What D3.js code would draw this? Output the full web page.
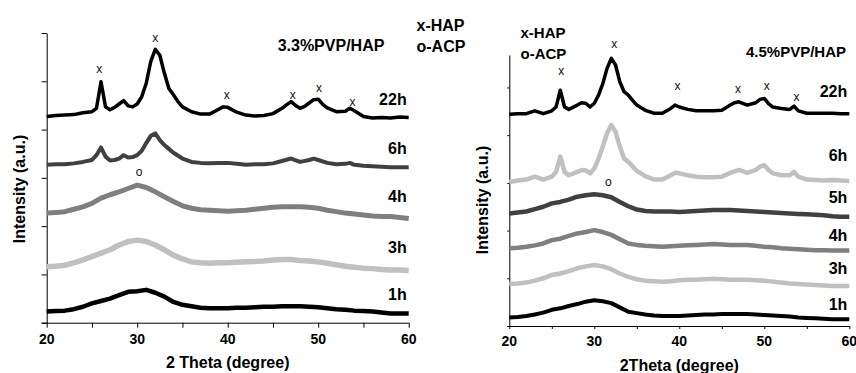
<!DOCTYPE html>
<html>
<head>
<meta charset="utf-8">
<script src="https://cdn.jsdelivr.net/npm/d3@7"></script>
<style>
  html, body { margin: 0; padding: 0; background: #fff; }
  svg { display: block; font-family: 'Liberation Sans', Arial, sans-serif; }
  .tick-label { font-size: 14px; font-weight: bold; fill: #000; }
  .axis-title { font-size: 16px; font-weight: bold; fill: #000; }
  .series-label { font-size: 16px; font-weight: bold; fill: #000; }
  .panel-title { font-weight: bold; fill: #000; }
  .legend { font-weight: bold; fill: #000; }
  .peak-mark { font-size: 12px; fill: #111; }
</style>
</head>
<body>
<div id="chart"></div>
<script>
// 2 theta ticks
const majorTicks = [20, 30, 40, 50, 60];
const allTicks = [20, 25, 30, 35, 40, 45, 50, 55, 60];

// --- 3.3%PVP/HAP (offset intensities, a.u.) ---
const leftNames = ['22h', '6h', '4h', '3h', '1h'];
const leftColors = ['#000000', '#404040', '#7f7f7f', '#c0c0c0', '#000000'];
const leftLabelPos = [4.63, 3.62, 2.61, 1.57, 0.59];

const left22h = [[20,4.27],[21,4.29],[22,4.30],[23,4.31],[24,4.35],[25,4.37],[25.5,4.44],[26,4.99],[26.5,4.47],[27,4.41],[27.5,4.46],[28,4.53],[28.5,4.60],[29,4.49],[29.5,4.47],[30,4.53],[30.5,4.68],[31,4.96],[31.5,5.41],[32,5.66],[32.5,5.54],[33,5.17],[33.5,4.85],[34,4.72],[34.5,4.58],[35,4.47],[36,4.37],[37,4.32],[38,4.32],[39,4.42],[39.5,4.47],[40,4.46],[41,4.36],[42,4.30],[43,4.28],[44,4.29],[45,4.33],[46,4.44],[46.5,4.51],[47,4.58],[47.5,4.50],[48,4.44],[48.5,4.48],[49,4.55],[49.5,4.62],[50,4.63],[50.5,4.52],[51,4.45],[52,4.37],[53,4.38],[53.5,4.44],[54,4.39],[55,4.27],[56,4.24],[57,4.25],[58,4.24],[59,4.26],[60,4.25]];
const left6h = [[20,3.27],[21,3.28],[22,3.28],[23,3.30],[24,3.33],[25,3.37],[25.5,3.47],[26,3.63],[26.5,3.44],[27,3.36],[27.5,3.37],[28,3.40],[28.5,3.47],[29,3.42],[29.5,3.43],[30,3.47],[30.5,3.56],[31,3.72],[31.5,3.87],[32,3.92],[32.5,3.78],[33,3.68],[33.5,3.60],[34,3.52],[35,3.40],[36,3.33],[37,3.31],[38,3.30],[39,3.31],[40,3.31],[41,3.29],[42,3.27],[43,3.28],[44,3.28],[45,3.30],[46,3.35],[47,3.40],[48,3.33],[49,3.37],[49.5,3.40],[50,3.37],[51,3.31],[52,3.28],[53,3.29],[53.5,3.31],[54,3.27],[55,3.25],[56,3.24],[57,3.23],[58,3.22],[59,3.22],[60,3.22]];
const left4h = [[20,2.27],[21,2.28],[22,2.30],[23,2.35],[24,2.40],[25,2.47],[26,2.58],[27,2.65],[28,2.71],[29,2.78],[30,2.85],[31,2.80],[32,2.71],[33,2.61],[34,2.51],[35,2.42],[36,2.37],[37,2.34],[38,2.33],[39,2.32],[40,2.31],[41,2.32],[42,2.33],[43,2.35],[44,2.37],[45,2.39],[46,2.40],[47,2.40],[48,2.40],[49,2.39],[50,2.37],[51,2.33],[52,2.30],[53,2.27],[54,2.25],[55,2.23],[56,2.21],[57,2.20],[58,2.20],[59,2.18],[60,2.16]];
const left3h = [[20,1.16],[21,1.17],[22,1.19],[23,1.24],[24,1.30],[25,1.37],[26,1.44],[27,1.51],[28,1.61],[29,1.68],[30,1.71],[31,1.68],[32,1.61],[33,1.51],[34,1.40],[35,1.32],[36,1.26],[37,1.24],[38,1.23],[39,1.24],[40,1.24],[41,1.25],[42,1.26],[43,1.27],[44,1.28],[45,1.30],[46,1.31],[47,1.31],[48,1.29],[49,1.28],[50,1.26],[51,1.23],[52,1.20],[53,1.17],[54,1.15],[55,1.13],[56,1.12],[57,1.10],[58,1.09],[59,1.09],[60,1.08]];
const left1h = [[20,0.23],[21,0.24],[22,0.25],[23,0.28],[24,0.33],[25,0.40],[26,0.45],[27,0.50],[28,0.57],[29,0.64],[30,0.65],[31,0.68],[32,0.62],[33,0.54],[34,0.43],[35,0.37],[36,0.34],[37,0.31],[38,0.30],[39,0.30],[40,0.30],[41,0.31],[42,0.31],[43,0.32],[44,0.33],[45,0.33],[46,0.34],[47,0.34],[48,0.34],[49,0.33],[50,0.32],[51,0.30],[52,0.28],[53,0.27],[54,0.25],[55,0.24],[56,0.23],[57,0.21],[58,0.19],[59,0.19],[60,0.19]];

const leftMarks = [[25.8,5.25,'x'],[32.0,5.88,'x'],[39.9,4.70,'x'],[47.2,4.70,'x'],[50.1,4.85,'x'],[53.8,4.56,'x'],[30.2,3.12,'o']];

// --- 4.5%PVP/HAP ---
const rightNames = ['22h', '6h', '5h', '4h', '3h', '1h'];
const rightColors = ['#000000', '#c0c0c0', '#404040', '#7f7f7f', '#c0c0c0', '#000000'];
const rightLabelPos = [4.93, 3.57, 2.69, 1.91, 1.21, 0.45];

const right22h = [[20,4.44],[21,4.45],[22,4.45],[23,4.51],[24,4.45],[25,4.51],[25.5,4.59],[26,4.94],[26.5,4.59],[27,4.54],[28,4.63],[28.5,4.68],[29,4.67],[29.5,4.59],[30,4.67],[30.5,4.84],[31,5.08],[31.5,5.40],[32,5.61],[32.5,5.47],[33,5.12],[33.5,4.91],[34,4.84],[34.5,4.73],[35,4.63],[36,4.52],[37,4.46],[38,4.46],[39,4.56],[39.5,4.63],[40,4.59],[41,4.54],[42,4.51],[43,4.51],[44,4.51],[45,4.52],[46,4.63],[46.5,4.68],[47,4.70],[48,4.63],[49,4.68],[49.5,4.75],[50,4.77],[50.5,4.66],[51,4.59],[52,4.56],[53,4.54],[53.5,4.61],[54,4.51],[55,4.46],[56,4.46],[57,4.46],[58,4.46],[59,4.45],[60,4.45]];
const right6h = [[20,3.02],[21,3.05],[22,3.07],[23,3.13],[24,3.07],[25,3.13],[25.5,3.23],[26,3.55],[26.5,3.23],[27,3.16],[28,3.23],[28.5,3.27],[29,3.26],[29.5,3.20],[30,3.30],[30.5,3.51],[31,3.76],[31.5,4.04],[32,4.21],[32.5,4.07],[33,3.76],[33.5,3.51],[34,3.44],[34.5,3.35],[35,3.25],[36,3.14],[37,3.07],[38,3.07],[39,3.16],[39.5,3.21],[40,3.20],[41,3.16],[42,3.13],[43,3.12],[44,3.12],[45,3.13],[46,3.21],[47,3.27],[48,3.21],[49,3.27],[49.5,3.34],[50,3.37],[50.5,3.27],[51,3.20],[52,3.16],[53,3.16],[53.5,3.23],[54,3.13],[55,3.07],[56,3.06],[57,3.05],[58,3.06],[59,3.05],[60,3.04]];
const right5h = [[20,2.36],[21,2.38],[22,2.40],[23,2.45],[24,2.50],[25,2.57],[26,2.60],[27,2.65],[28,2.71],[29,2.74],[30,2.76],[31,2.74],[32,2.70],[33,2.60],[34,2.51],[35,2.44],[36,2.41],[37,2.40],[38,2.40],[39,2.40],[40,2.39],[41,2.40],[42,2.41],[43,2.42],[44,2.43],[45,2.43],[46,2.43],[47,2.42],[48,2.41],[49,2.40],[50,2.39],[51,2.38],[52,2.37],[53,2.36],[54,2.35],[55,2.34],[56,2.33],[57,2.32],[58,2.30],[59,2.29],[60,2.29]];
const right4h = [[20,1.63],[21,1.64],[22,1.66],[23,1.69],[24,1.73],[25,1.80],[26,1.83],[27,1.89],[28,1.94],[29,1.97],[30,2.01],[31,1.97],[32,1.91],[33,1.82],[34,1.73],[35,1.70],[36,1.68],[37,1.67],[38,1.66],[39,1.67],[40,1.68],[41,1.69],[42,1.70],[43,1.71],[44,1.72],[45,1.71],[46,1.70],[47,1.70],[48,1.70],[49,1.68],[50,1.66],[51,1.65],[52,1.63],[53,1.62],[54,1.61],[55,1.60],[56,1.59],[57,1.59],[58,1.58],[59,1.58],[60,1.58]];
const right3h = [[20,0.88],[21,0.89],[22,0.91],[23,0.95],[24,1.00],[25,1.07],[26,1.10],[27,1.15],[28,1.21],[29,1.25],[30,1.28],[31,1.25],[32,1.19],[33,1.10],[34,1.03],[35,0.98],[36,0.95],[37,0.94],[38,0.93],[39,0.94],[40,0.96],[41,0.97],[42,0.97],[43,0.98],[44,0.99],[45,0.98],[46,0.97],[47,0.97],[48,0.97],[49,0.96],[50,0.95],[51,0.93],[52,0.91],[53,0.89],[54,0.88],[55,0.87],[56,0.86],[57,0.85],[58,0.84],[59,0.84],[60,0.84]];
const right1h = [[20,0.18],[21,0.19],[22,0.21],[23,0.24],[24,0.28],[25,0.34],[26,0.37],[27,0.42],[28,0.46],[29,0.51],[30,0.54],[31,0.52],[32,0.48],[33,0.39],[34,0.30],[35,0.27],[36,0.24],[37,0.22],[38,0.21],[39,0.21],[40,0.21],[41,0.22],[42,0.23],[43,0.24],[44,0.24],[45,0.25],[46,0.25],[47,0.25],[48,0.25],[49,0.24],[50,0.23],[51,0.22],[52,0.21],[53,0.20],[54,0.18],[55,0.17],[56,0.16],[57,0.15],[58,0.14],[59,0.14],[60,0.14]];

const rightMarks = [[26.1,5.33,'x'],[32.35,5.91,'x'],[39.8,5.02,'x'],[46.9,4.96,'x'],[50.3,5.03,'x'],[53.8,4.79,'x'],[31.65,3.00,'o']];

const width = 856, height = 373;

const svg = d3.select('#chart').append('svg')
  .attr('width', width)
  .attr('height', height);

function drawPanel(cfg) {
  const x = d3.scaleLinear().domain([20, 60]).range([cfg.x0, cfg.x1]);
  const y = d3.scaleLinear().domain([0, cfg.yMax]).range([cfg.y0, cfg.y1]);
  const g = svg.append('g');

  // y axis (no labels)
  const yAxis = g.append('g')
    .attr('transform', `translate(${cfg.x0},0)`)
    .call(d3.axisLeft(y).tickValues(cfg.yTicks).tickFormat('').tickSize(cfg.yTickSize).tickSizeOuter(0));
  yAxis.select('.domain').attr('stroke', '#000').attr('stroke-width', 1);
  yAxis.selectAll('.tick line').attr('stroke', '#000');

  // x axis
  const xAxis = g.append('g')
    .attr('transform', `translate(0,${cfg.y0})`)
    .call(d3.axisBottom(x).tickValues(allTicks).tickFormat('').tickSize(cfg.xTickSize).tickSizeOuter(0));
  xAxis.select('.domain')
    .attr('d', `M${cfg.x0 - cfg.yTickSize},0.5H${cfg.x1}`)
    .attr('stroke', '#000');
  xAxis.selectAll('.tick line').attr('stroke', '#000');

  g.selectAll('text.tick-label')
    .data(majorTicks)
    .join('text')
    .attr('class', 'tick-label')
    .attr('x', d => x(d))
    .attr('y', cfg.y0 + cfg.tickLabelDy)
    .attr('text-anchor', 'middle')
    .text(d => d);

  // patterns
  const line = d3.line().x(d => x(d[0])).y(d => y(d[1]));
  cfg.series.forEach((s, i) => {
    g.append('path')
      .datum(s)
      .attr('fill', 'none')
      .attr('stroke', cfg.colors[i])
      .attr('stroke-width', cfg.widths[i])
      .attr('stroke-linejoin', 'round')
      .attr('d', line);

    g.append('text')
      .attr('class', 'series-label')
      .attr('x', x(60) - 2)
      .attr('y', y(cfg.labelPos[i]))
      .attr('dy', '0.36em')
      .attr('text-anchor', 'end')
      .text(cfg.names[i]);
  });

  g.selectAll('text.peak-mark')
    .data(cfg.marks)
    .join('text')
    .attr('class', 'peak-mark')
    .attr('x', d => x(d[0]))
    .attr('y', d => y(d[1]))
    .attr('dy', '0.3em')
    .attr('text-anchor', 'middle')
    .text(d => d[2]);

  g.append('text')
    .attr('class', 'axis-title')
    .attr('x', (cfg.x0 + cfg.x1) / 2)
    .attr('y', cfg.xTitleY)
    .attr('text-anchor', 'middle')
    .text(cfg.xTitle);

  g.append('text')
    .attr('class', 'axis-title')
    .attr('transform', `translate(${cfg.yTitleX},${cfg.yTitleY}) rotate(-90)`)
    .attr('text-anchor', 'middle')
    .attr('font-size', cfg.yTitleSize)
    .text('Intensity (a.u.)');

  g.append('text')
    .attr('class', 'panel-title')
    .attr('x', cfg.titleX)
    .attr('y', cfg.titleY)
    .attr('text-anchor', 'middle')
    .attr('font-size', cfg.titleSize)
    .text(cfg.title);

  ['x-HAP', 'o-ACP'].forEach((t, i) => {
    g.append('text')
      .attr('class', 'legend')
      .attr('x', cfg.legendX)
      .attr('y', cfg.legendY + i * 21)
      .attr('font-size', cfg.legendSize)
      .text(t);
  });
}

drawPanel({
  x0: 46.7, x1: 408.7, y0: 322.7, y1: 33, yMax: 6,
  yTicks: [0, 1, 2, 3, 4, 5, 6], yTickSize: 5, xTickSize: 5, tickLabelDy: 21,
  series: [left22h, left6h, left4h, left3h, left1h],
  names: leftNames, colors: leftColors, labelPos: leftLabelPos,
  widths: [3.5, 4, 5, 5.5, 4.5],
  marks: leftMarks,
  xTitle: '2 Theta (degree)', xTitleY: 368,
  yTitleX: 25, yTitleY: 189, yTitleSize: 17,
  title: '3.3%PVP/HAP', titleX: 331, titleY: 51, titleSize: 16,
  legendX: 416.5, legendY: 30.5, legendSize: 16
});

drawPanel({
  x0: 509.3, x1: 849.3, y0: 326, y1: 55, yMax: 5.68,
  yTicks: [0, 1, 2, 3, 4, 5], yTickSize: 2, xTickSize: 3, tickLabelDy: 20,
  series: [right22h, right6h, right5h, right4h, right3h, right1h],
  names: rightNames, colors: rightColors, labelPos: rightLabelPos,
  widths: [3.5, 4.5, 4.5, 4.5, 4.5, 4],
  marks: rightMarks,
  xTitle: '2Theta (degree)', xTitleY: 371,
  yTitleX: 488, yTitleY: 200, yTitleSize: 16,
  title: '4.5%PVP/HAP', titleX: 796, titleY: 57, titleSize: 15,
  legendX: 520.5, legendY: 37.5, legendSize: 15
});
</script>
</body>
</html>
